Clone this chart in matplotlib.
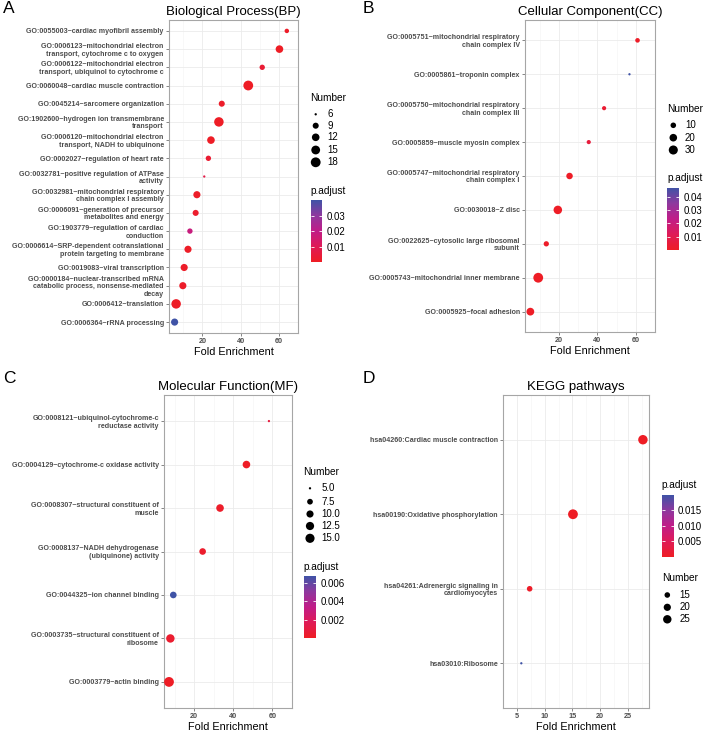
import numpy as np
import matplotlib
matplotlib.use("Agg")
import matplotlib.pyplot as plt
from matplotlib.colors import LinearSegmentedColormap, Normalize
from matplotlib.cm import ScalarMappable

plt.rcParams['font.family'] = ['Liberation Sans', 'DejaVu Sans']

W, H, DPI = 709, 733, 100

# ---------------- data ----------------
bp_terms = [
    "GO:0055003~cardiac myofibril assembly",
    "GO:0006123~mitochondrial electron\ntransport, cytochrome c to oxygen",
    "GO:0006122~mitochondrial electron\ntransport, ubiquinol to cytochrome c",
    "GO:0060048~cardiac muscle contraction",
    "GO:0045214~sarcomere organization",
    "GO:1902600~hydrogen ion transmembrane\ntransport",
    "GO:0006120~mitochondrial electron\ntransport, NADH to ubiquinone",
    "GO:0002027~regulation of heart rate",
    "GO:0032781~positive regulation of ATPase\nactivity",
    "GO:0032981~mitochondrial respiratory\nchain complex I assembly",
    "GO:0006091~generation of precursor\nmetabolites and energy",
    "GO:1903779~regulation of cardiac\nconduction",
    "GO:0006614~SRP-dependent cotranslational\nprotein targeting to membrane",
    "GO:0019083~viral transcription",
    "GO:0000184~nuclear-transcribed mRNA\ncatabolic process, nonsense-mediated\ndecay",
    "GO:0006412~translation",
    "GO:0006364~rRNA processing",
]
bp_fold = [64.15, 60.3, 51.3, 44.0, 30.15, 28.65, 24.5, 23.15, 21.0,
           17.15, 16.5, 13.5, 12.5, 10.5, 9.8, 6.3, 5.5]
bp_count = [7, 12, 8, 18, 9, 17, 12, 8, 6, 11, 9, 8, 11, 11, 11, 17, 11]
bp_padj = [0.0012, 0.0003, 0.0035, 0.0004, 0.0015, 0.0005, 0.0006, 0.0030,
           0.0075, 0.0010, 0.0020, 0.0180, 0.0009, 0.0012, 0.0014, 0.0008, 0.0401]
bp_xticks = [20, 40, 60]
bp_size_breaks = [6, 9, 12, 15, 18]
bp_size_labels = ["6", "9", "12", "15", "18"]
bp_p_ticks = [0.01, 0.02, 0.03]
bp_p_labels = ["0.01", "0.02", "0.03"]

cc_terms = [
    "GO:0005751~mitochondrial respiratory\nchain complex IV",
    "GO:0005861~troponin complex",
    "GO:0005750~mitochondrial respiratory\nchain complex III",
    "GO:0005859~muscle myosin complex",
    "GO:0005747~mitochondrial respiratory\nchain complex I",
    "GO:0030018~Z disc",
    "GO:0022625~cytosolic large ribosomal\nsubunit",
    "GO:0005743~mitochondrial inner membrane",
    "GO:0005925~focal adhesion",
]
cc_fold = [60.9, 56.7, 43.5, 35.5, 25.5, 19.4, 13.4, 9.2, 5.1]
cc_count = [7, 4, 6, 6, 14, 26, 9, 36, 21]
cc_padj = [0.0008, 0.0469, 0.0030, 0.0055, 0.0004, 0.0002, 0.0010, 0.00001, 0.0003]
cc_xticks = [20, 40, 60]
cc_size_breaks = [10, 20, 30]
cc_size_labels = ["10", "20", "30"]
cc_p_ticks = [0.01, 0.02, 0.03, 0.04]
cc_p_labels = ["0.01", "0.02", "0.03", "0.04"]

mf_terms = [
    "GO:0008121~ubiquinol-cytochrome-c\nreductase activity",
    "GO:0004129~cytochrome-c oxidase activity",
    "GO:0008307~structural constituent of\nmuscle",
    "GO:0008137~NADH dehydrogenase\n(ubiquinone) activity",
    "GO:0044325~ion channel binding",
    "GO:0003735~structural constituent of\nribosome",
    "GO:0003779~actin binding",
]
mf_fold = [58.2, 46.7, 33.2, 24.3, 9.3, 7.8, 7.1]
mf_count = [5, 11, 11, 9, 9, 13, 17]
mf_padj = [0.0009, 0.00005, 0.0002, 0.0003, 0.0068, 0.0004, 0.00002]
mf_xticks = [20, 40, 60]
mf_size_breaks = [5.0, 7.5, 10.0, 12.5, 15.0]
mf_size_labels = ["5.0", "7.5", "10.0", "12.5", "15.0"]
mf_p_ticks = [0.002, 0.004, 0.006]
mf_p_labels = ["0.002", "0.004", "0.006"]

kegg_terms = [
    "hsa04260:Cardiac muscle contraction",
    "hsa00190:Oxidative phosphorylation",
    "hsa04261:Adrenergic signaling in\ncardiomyocytes",
    "hsa03010:Ribosome",
]
kegg_fold = [27.7, 15.1, 7.3, 5.8]
kegg_count = [30, 32, 15, 11]
kegg_padj = [0.00001, 0.00003, 0.0004, 0.0198]
kegg_xticks = [5, 10, 15, 20, 25]
kegg_size_breaks = [15, 20, 25]
kegg_size_labels = ["15", "20", "25"]
kegg_p_ticks = [0.005, 0.010, 0.015]
kegg_p_labels = ["0.005", "0.010", "0.015"]

# ---------------- style ----------------
cmap = LinearSegmentedColormap.from_list(
    "padj", [(0.0, "#EE1D25"), (0.25, "#DF1B57"), (0.5, "#C01C88"),
             (0.75, "#8E389E"), (1.0, "#3F53A6")])
DMIN, DMAX = 2.3, 9.8
LABEL_COL = "#4D4D4D"
YLAB_FS = 5.1
XTICK_FS = 5.2
LEG_TITLE_FS = 7.3
LEG_FS = 7.0


def px_rect(x0, y0, x1, y1):
    return [x0 / W, 1 - y1 / H, (x1 - x0) / W, (y1 - y0) / H]


def size_pts2(v, lo, hi):
    t = np.clip((np.asarray(v, float) - lo) / (hi - lo), 0, 1)
    d = DMIN + (DMAX - DMIN) * np.sqrt(t)
    return (d * 72.0 / DPI) ** 2


fig = plt.figure(figsize=(W / DPI, H / DPI), dpi=DPI)
fig.patch.set_facecolor("white")
lax = fig.add_axes([0, 0, 1, 1], zorder=5)
lax.set_xlim(0, W)
lax.set_ylim(H, 0)
lax.axis("off")
lax.patch.set_alpha(0)


def panel(rect, terms, fold, count, padj, xticks, title, letter, letter_xy,
          num_spec, p_spec, size_breaks, size_labels, p_ticks, p_labels):
    ax = fig.add_axes(px_rect(*rect))
    n = len(terms)
    ypos = np.arange(n)
    lo, hi = min(count), max(count)
    norm = Normalize(min(padj), max(padj))
    ax.scatter(fold, ypos, s=size_pts2(count, lo, hi), c=padj, cmap=cmap,
               norm=norm, edgecolors="none", zorder=3)
    ax.set_ylim(n - 1 + 0.6, -0.6)
    fmin, fmax = min(fold), max(fold)
    pad = 0.05 * (fmax - fmin)
    ax.set_xlim(fmin - pad, fmax + pad)
    ax.set_xticks(xticks)
    step = xticks[1] - xticks[0]
    minors = [xticks[0] - step / 2] + [t + step / 2 for t in xticks]
    ax.set_xticks(minors, minor=True)
    ax.set_xticklabels([str(t) for t in xticks], fontsize=XTICK_FS,
                       fontweight="bold", color=LABEL_COL)
    ax.set_yticks(ypos)
    ax.set_yticklabels(terms, fontsize=YLAB_FS, fontweight="bold",
                       color=LABEL_COL, linespacing=1.1)
    ax.grid(which="major", color="#EBEBEB", lw=0.6, zorder=0)
    ax.grid(which="minor", axis="x", color="#F4F4F4", lw=0.4, zorder=0)
    ax.set_axisbelow(True)
    ax.tick_params(which="major", length=2.2, width=0.5, color="#555555", pad=1.5)
    ax.tick_params(which="minor", length=0)
    for sp in ax.spines.values():
        sp.set_color("#A6A6A6")
        sp.set_linewidth(0.8)
    ax.set_xlabel("Fold Enrichment", fontsize=7.8, labelpad=1.0)
    ax.set_title(title, fontsize=9.5, pad=3.5)
    fig.text(letter_xy[0] / W, 1 - letter_xy[1] / H, letter, fontsize=12.5,
             va="top", ha="left")

    # size legend
    tx, ty, dx, lx, ys = num_spec
    lax.text(tx, ty, "Number", fontsize=LEG_TITLE_FS, va="center", ha="left")
    lax.scatter([dx] * len(size_breaks), ys, s=size_pts2(size_breaks, lo, hi),
                c="black", edgecolors="none", clip_on=False)
    for yy, lab in zip(ys, size_labels):
        lax.text(lx, yy, lab, fontsize=LEG_FS, va="center", ha="left")

    # colour legend
    ptx, pty, bar = p_spec
    lax.text(ptx, pty, "p.adjust", fontsize=LEG_TITLE_FS, va="center", ha="left")
    cax = fig.add_axes(px_rect(*bar))
    cb = fig.colorbar(ScalarMappable(norm=norm, cmap=cmap), cax=cax)
    cb.outline.set_visible(False)
    cb.set_ticks(p_ticks)
    cb.set_ticklabels(p_labels)
    cax.tick_params(direction="in", color="white", length=2.2, width=0.6,
                    left=True, right=True, labelsize=LEG_FS, pad=3.0)
    return ax


panel((169, 20, 298, 333), bp_terms, bp_fold, bp_count, bp_padj, bp_xticks,
      "Biological Process(BP)", "A", (3, 1),
      (310.5, 97.7, 315.7, 327.3, [114.3, 125.7, 137.3, 150, 162.3]),
      (310, 191, (310.5, 200, 322.5, 261.7)),
      bp_size_breaks, bp_size_labels, bp_p_ticks, bp_p_labels)

panel((525, 20, 655, 332), cc_terms, cc_fold, cc_count, cc_padj, cc_xticks,
      "Cellular Component(CC)", "B", (363, 1),
      (667.5, 109, 673.3, 685, [125.3, 137.7, 150]),
      (667.3, 177.7, (667.3, 187.7, 679.3, 250)),
      cc_size_breaks, cc_size_labels, cc_p_ticks, cc_p_labels)

panel((164, 395, 292, 708), mf_terms, mf_fold, mf_count, mf_padj, mf_xticks,
      "Molecular Function(MF)", "C", (3, 371),
      (303.3, 471.7, 310, 321.7, [488.3, 501.7, 514, 526, 538.3]),
      (303.3, 567, (304, 576, 316, 637.7)),
      mf_size_breaks, mf_size_labels, mf_p_ticks, mf_p_labels)

panel((503, 395, 649, 708), kegg_terms, kegg_fold, kegg_count, kegg_padj,
      kegg_xticks, "KEGG pathways", "D", (363, 371),
      (661.7, 578.3, 667.3, 679.3, [595, 607.3, 619.3]),
      (661.7, 485, (661.7, 495, 673.7, 556.7)),
      kegg_size_breaks, kegg_size_labels, kegg_p_ticks, kegg_p_labels)

fig.savefig("out.png", dpi=DPI, facecolor="white")
